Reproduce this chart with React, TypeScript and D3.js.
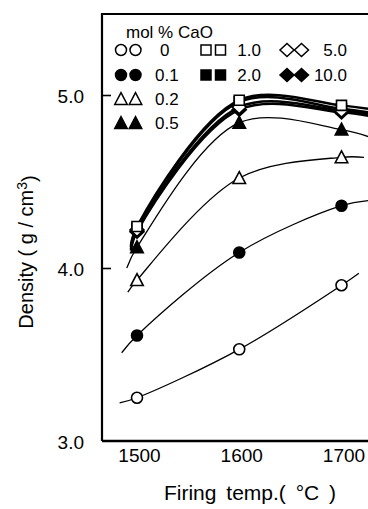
import React, { useEffect, useRef } from "react";
import * as d3 from "d3";

// firing temperatures (°C)
const temps = [1500, 1600, 1700];

// mol % CaO for each series, and marker style
const seriesLabels = ["0", "0.1", "0.2", "0.5", "1.0", "2.0", "5.0", "10.0"];
const seriesShapes = ["circle", "circle", "triangle", "triangle", "square", "square", "diamond", "diamond"];
const seriesFilled = [false, true, false, true, false, true, false, true];

// density (g/cm3) at 1500, 1600, 1700 °C
const density0 = [3.25, 3.53, 3.9];
const density01 = [3.61, 4.09, 4.36];
const density02 = [3.93, 4.52, 4.64];
const density05 = [4.12, 4.84, 4.8];
const density10 = [4.24, 4.97, 4.94];
const density20 = [4.23, 4.96, 4.92];
const density50 = [4.22, 4.93, 4.91];
const density100 = [4.21, 4.915, 4.9];
const densities = [density0, density01, density02, density05, density10, density20, density50, density100];

// where each drawn curve begins and ends (temp, density)
const curveStarts = [[1483, 3.22], [1485, 3.51], [1491, 3.86], [1490, 4.0], [1494, 4.13], [1494, 4.12], [1494, 4.11], [1494, 4.1]];
const curveEnds = [[1717, 3.97], [1726, 4.39], [1722, 4.64], [1726, 4.76], [1726, 4.92], [1726, 4.9], [1726, 4.89], [1726, 4.88]];

const yTicks = [3, 4, 5];
const xTicks = [1500, 1600, 1700];

const drawOrder = [0, 1, 2, 3, 7, 5, 6, 4];

const font = "'Liberation Sans', Arial, sans-serif";

function markerPath(shape) {
  if (shape === "circle") {
    const r = 5.5;
    return `M${-r},0a${r},${r} 0 1,0 ${2 * r},0a${r},${r} 0 1,0 ${-2 * r},0Z`;
  }
  if (shape === "triangle") {
    const s = 12.5, h = s * 0.866;
    return `M0,${-h / 2 - 1}L${s / 2},${h / 2}L${-s / 2},${h / 2}Z`;
  }
  if (shape === "square") {
    const s = 10;
    return `M${-s / 2},${-s / 2}h${s}v${s}h${-s}Z`;
  }
  return "M0,-6.5L7,0L0,6.5L-7,0Z";
}

const App = () => {
  const svgRef = useRef(null);

  useEffect(() => {
    const width = 368;
    const height = 509;
    const svg = d3.select(svgRef.current);
    svg.selectAll("*").remove();
    svg.attr("width", width).attr("height", height);

    svg.append("rect").attr("width", width).attr("height", height).attr("fill", "#fff");

    const x = d3.scaleLinear().domain([1500, 1700]).range([137, 341.5]);
    const y = d3.scaleLinear().domain([3, 5]).range([441, 95]);
    const left = 102;
    const top = 14;

    // frame
    svg.append("path")
      .attr("d", `M${left},${y(3)}V${top}H${width}`)
      .attr("fill", "none")
      .attr("stroke", "#000")
      .attr("stroke-width", 2.2);
    svg.append("line")
      .attr("x1", left).attr("x2", width)
      .attr("y1", y(3)).attr("y2", y(3))
      .attr("stroke", "#000")
      .attr("stroke-width", 2.5);

    // y axis
    const yAxis = svg.append("g")
      .attr("transform", `translate(${left},0)`)
      .call(d3.axisLeft(y).tickValues(yTicks).tickSize(-9).tickPadding(18).tickFormat(d3.format(".1f")));
    yAxis.select(".domain").remove();
    yAxis.selectAll(".tick line").attr("stroke", "#000").attr("stroke-width", 1.6)
      .filter((d) => d === 3).remove();
    yAxis.selectAll("text")
      .attr("fill", "#000")
      .style("font-family", font)
      .style("font-size", "19px")
      .attr("dy", "0.4em");

    // x axis
    const xAxis = svg.append("g")
      .attr("transform", `translate(0,${y(3)})`)
      .call(d3.axisBottom(x).tickValues(xTicks).tickSize(0).tickPadding(8).tickFormat(d3.format("d")));
    xAxis.select(".domain").remove();
    xAxis.selectAll("text")
      .attr("fill", "#000")
      .attr("dx", 2)
      .style("font-family", font)
      .style("font-size", "19px");

    // axis titles
    svg.append("text")
      .attr("x", 250)
      .attr("y", 500)
      .attr("text-anchor", "middle")
      .attr("fill", "#000")
      .style("font-family", font)
      .style("font-size", "21px")
      .style("word-spacing", "4px")
      .text("Firing temp.( °C )");

    const yTitle = svg.append("text")
      .attr("transform", "translate(33,252) rotate(-90)")
      .attr("text-anchor", "middle")
      .attr("fill", "#000")
      .style("font-family", font)
      .style("font-size", "20px");
    yTitle.append("tspan").text("Density ( g / cm");
    yTitle.append("tspan").attr("dy", "-0.45em").style("font-size", "14px").text("3");
    yTitle.append("tspan").attr("dy", "0.45em").text(")");

    // curves
    const line = d3.line()
      .x((d) => x(d[0]))
      .y((d) => y(d[1]))
      .curve(d3.curveCatmullRom.alpha(0.5));

    const plot = svg.append("g");
    drawOrder.forEach((i) => {
      const pts = [curveStarts[i], ...temps.map((t, j) => [t, densities[i][j]]), curveEnds[i]];
      plot.append("path")
        .attr("d", line(pts))
        .attr("fill", "none")
        .attr("stroke", "#000")
        .attr("stroke-width", i >= 4 ? 2.5 : 1.3);
    });

    drawOrder.forEach((i) => {
      plot.append("g")
        .selectAll("path")
        .data(densities[i])
        .enter()
        .append("path")
        .attr("transform", (d, j) => `translate(${x(temps[j])},${y(d)})`)
        .attr("d", markerPath(seriesShapes[i]))
        .attr("fill", seriesFilled[i] ? "#000" : "#fff")
        .attr("stroke", "#000")
        .attr("stroke-width", 1.6);
    });

    // legend
    const legend = svg.append("g");
    legend.append("text")
      .attr("x", 126)
      .attr("y", 38)
      .attr("fill", "#000")
      .style("font-family", font)
      .style("font-size", "17px")
      .text("mol % CaO");

    const colX = [121, 206, 287];
    const labelEnd = [175, 261, 347];
    const rowY = [50, 75, 99, 123];
    const legendSlots = [[0, 0], [0, 1], [0, 2], [0, 3], [1, 0], [1, 1], [2, 0], [2, 1]];
    seriesLabels.forEach((lab, i) => {
      const [c, r] = legendSlots[i];
      const g = legend.append("g").attr("transform", `translate(0,${rowY[r]})`);
      [0, 14.5].forEach((dx) => {
        g.append("path")
          .attr("transform", `translate(${colX[c] + dx},0)`)
          .attr("d", markerPath(seriesShapes[i]))
          .attr("fill", seriesFilled[i] ? "#000" : "#fff")
          .attr("stroke", "#000")
          .attr("stroke-width", 1.5);
      });
      g.append("text")
        .attr("x", lab === "0" ? 160 : c === 0 ? 155 : labelEnd[c])
        .attr("y", 6)
        .attr("text-anchor", c === 0 ? "start" : "end")
        .attr("fill", "#000")
        .style("font-family", font)
        .style("font-size", "17px")
        .text(lab);
    });
  }, []);

  return <svg ref={svgRef} style={{ position: "absolute", left: 0, top: 0 }}></svg>;
};

export default App;
